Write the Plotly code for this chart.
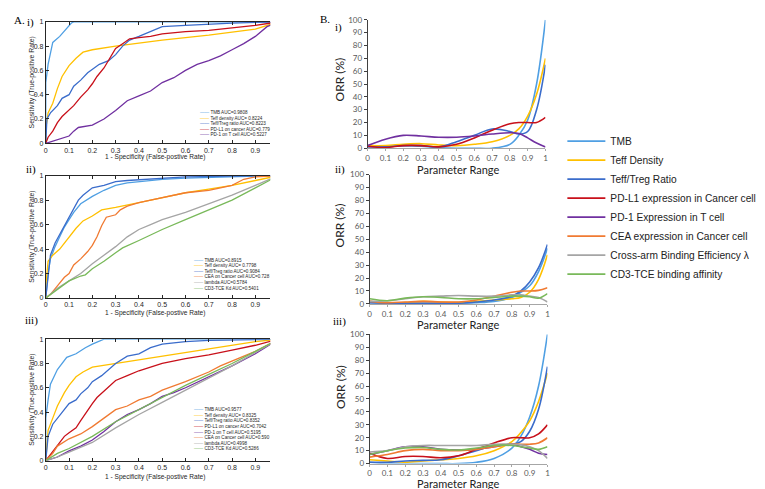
import plotly.graph_objects as go

W, H = 765, 489

# ---------------- Colours ----------------
C_TMB = "#4F9FE3"
C_TEFF = "#FFC000"
C_TREG = "#3A6CCB"
C_PDL1 = "#C8101A"
C_PD1 = "#7030A0"
C_CEA = "#F07A32"
C_LAM = "#A5A5A5"
C_CD3 = "#79B95A"

# ---------------- A-i ROC data ----------------
ai_tmb_fpr = [0, 0, 0.01, 0.02, 0.03, 0.06, 0.09, 0.11, 0.12, 1]
ai_tmb_tpr = [0, 0.5, 0.65, 0.75, 0.83, 0.88, 0.95, 0.99, 1.0, 1]
ai_teff_fpr = [0, 0, 0.01, 0.03, 0.05, 0.07, 0.1, 0.13, 0.16, 0.2, 0.3, 0.5, 0.7, 0.9, 1]
ai_teff_tpr = [0, 0.12, 0.25, 0.33, 0.45, 0.55, 0.64, 0.70, 0.75, 0.77, 0.80, 0.85, 0.89, 0.94, 1]
ai_treg_fpr = [0, 0.005, 0.02, 0.05, 0.07, 0.1, 0.12, 0.15, 0.18, 0.2, 0.23, 0.27, 0.3, 0.33, 0.36, 0.4, 0.45, 0.5, 0.6, 0.7, 0.8, 1]
ai_treg_tpr = [0, 0.2, 0.25, 0.31, 0.37, 0.40, 0.47, 0.52, 0.58, 0.61, 0.65, 0.68, 0.73, 0.80, 0.85, 0.88, 0.92, 0.96, 0.97, 0.98, 0.99, 1]
ai_pdl1_fpr = [0, 0.01, 0.03, 0.05, 0.07, 0.1, 0.12, 0.15, 0.18, 0.2, 0.22, 0.25, 0.28, 0.3, 0.33, 0.36, 0.4, 0.45, 0.5, 0.6, 0.7, 0.8, 0.9, 1]
ai_pdl1_tpr = [0, 0.05, 0.1, 0.17, 0.22, 0.27, 0.31, 0.38, 0.44, 0.49, 0.55, 0.62, 0.72, 0.78, 0.82, 0.86, 0.87, 0.88, 0.9, 0.92, 0.93, 0.95, 0.97, 1]
ai_pd1_fpr = [0, 0.05, 0.1, 0.12, 0.14, 0.2, 0.25, 0.3, 0.35, 0.4, 0.45, 0.5, 0.55, 0.6, 0.65, 0.7, 0.75, 0.8, 0.85, 0.9, 0.95, 1]
ai_pd1_tpr = [0, 0.03, 0.06, 0.1, 0.13, 0.15, 0.2, 0.27, 0.35, 0.39, 0.43, 0.5, 0.54, 0.6, 0.65, 0.68, 0.72, 0.77, 0.82, 0.88, 0.96, 1]

# ---------------- A-ii ROC data ----------------
aii_tmb_fpr = [0, 0.01, 0.02, 0.04, 0.06, 0.08, 0.1, 0.12, 0.15, 0.2, 0.25, 0.3, 0.35, 0.4, 0.5, 0.6, 0.8, 1]
aii_tmb_tpr = [0, 0.2, 0.32, 0.42, 0.5, 0.58, 0.64, 0.7, 0.77, 0.83, 0.88, 0.92, 0.94, 0.95, 0.97, 0.98, 0.99, 1]
aii_teff_fpr = [0, 0, 0.01, 0.03, 0.06, 0.08, 0.1, 0.13, 0.16, 0.2, 0.24, 0.3, 0.4, 0.5, 0.6, 0.7, 0.8, 0.9, 1]
aii_teff_tpr = [0, 0.1, 0.3, 0.35, 0.4, 0.45, 0.5, 0.57, 0.63, 0.67, 0.72, 0.74, 0.78, 0.82, 0.86, 0.89, 0.92, 0.96, 1]
aii_treg_fpr = [0, 0.01, 0.02, 0.04, 0.06, 0.08, 0.1, 0.12, 0.14, 0.16, 0.18, 0.2, 0.25, 0.3, 0.35, 0.45, 0.5, 0.6, 0.8, 1]
aii_treg_tpr = [0, 0.2, 0.35, 0.45, 0.52, 0.6, 0.66, 0.73, 0.8, 0.84, 0.87, 0.9, 0.92, 0.95, 0.96, 0.97, 0.98, 0.99, 0.995, 1]
aii_cea_fpr = [0, 0.02, 0.05, 0.08, 0.1, 0.12, 0.15, 0.18, 0.2, 0.22, 0.24, 0.26, 0.3, 0.32, 0.35, 0.4, 0.45, 0.5, 0.6, 0.7, 0.8, 0.85, 0.9, 1]
aii_cea_tpr = [0, 0.03, 0.1, 0.17, 0.2, 0.27, 0.32, 0.38, 0.43, 0.5, 0.59, 0.66, 0.68, 0.72, 0.75, 0.78, 0.8, 0.82, 0.86, 0.88, 0.92, 0.97, 0.99, 1]
aii_lam_fpr = [0, 0.05, 0.1, 0.15, 0.2, 0.25, 0.3, 0.35, 0.4, 0.45, 0.5, 0.6, 0.7, 0.8, 0.9, 1]
aii_lam_tpr = [0, 0.08, 0.14, 0.2, 0.28, 0.35, 0.42, 0.5, 0.56, 0.6, 0.64, 0.7, 0.77, 0.84, 0.92, 1]
aii_cd3_fpr = [0, 0.03, 0.07, 0.1, 0.15, 0.17, 0.2, 0.25, 0.3, 0.33, 0.4, 0.5, 0.6, 0.7, 0.8, 0.9, 1]
aii_cd3_tpr = [0, 0.04, 0.1, 0.14, 0.18, 0.19, 0.24, 0.3, 0.37, 0.41, 0.47, 0.56, 0.64, 0.72, 0.8, 0.9, 1]

# ---------------- A-iii ROC data ----------------
aiii_tmb_fpr = [0, 0, 0.01, 0.02, 0.05, 0.09, 0.13, 0.17, 0.2, 0.25, 1]
aiii_tmb_tpr = [0, 0.35, 0.5, 0.63, 0.75, 0.85, 0.88, 0.93, 0.96, 1.0, 1]
aiii_teff_fpr = [0, 0.01, 0.03, 0.05, 0.08, 0.1, 0.13, 0.16, 0.2, 0.3, 0.4, 0.5, 0.6, 0.7, 0.8, 0.9, 1]
aiii_teff_tpr = [0, 0.25, 0.35, 0.45, 0.56, 0.62, 0.69, 0.73, 0.77, 0.8, 0.83, 0.86, 0.89, 0.92, 0.95, 0.98, 1]
aiii_treg_fpr = [0, 0.01, 0.03, 0.05, 0.08, 0.1, 0.13, 0.15, 0.18, 0.2, 0.24, 0.27, 0.3, 0.35, 0.4, 0.45, 0.5, 0.6, 0.7, 1]
aiii_treg_tpr = [0, 0.2, 0.3, 0.35, 0.42, 0.47, 0.5, 0.55, 0.6, 0.65, 0.7, 0.75, 0.8, 0.86, 0.88, 0.93, 0.96, 0.98, 0.99, 1]
aiii_pdl1_fpr = [0, 0.02, 0.05, 0.08, 0.1, 0.13, 0.15, 0.18, 0.2, 0.22, 0.25, 0.28, 0.3, 0.35, 0.4, 0.45, 0.5, 0.6, 0.7, 0.8, 0.9, 1]
aiii_pdl1_tpr = [0, 0.05, 0.12, 0.2, 0.23, 0.27, 0.33, 0.42, 0.47, 0.52, 0.57, 0.62, 0.66, 0.7, 0.74, 0.77, 0.8, 0.84, 0.87, 0.91, 0.95, 1]
aiii_pd1_fpr = [0, 0.05, 0.1, 0.15, 0.2, 0.25, 0.3, 0.35, 0.4, 0.45, 0.5, 0.55, 0.6, 0.7, 0.8, 0.9, 1]
aiii_pd1_tpr = [0, 0.03, 0.08, 0.12, 0.17, 0.24, 0.32, 0.38, 0.42, 0.47, 0.53, 0.56, 0.6, 0.69, 0.78, 0.88, 1]
aiii_cea_fpr = [0, 0.03, 0.05, 0.1, 0.15, 0.2, 0.25, 0.3, 0.35, 0.4, 0.45, 0.5, 0.6, 0.7, 0.75, 0.8, 0.9, 1]
aiii_cea_tpr = [0, 0.06, 0.12, 0.18, 0.22, 0.28, 0.35, 0.42, 0.45, 0.5, 0.53, 0.58, 0.65, 0.73, 0.78, 0.82, 0.9, 1]
aiii_lam_fpr = [0, 0.05, 0.1, 0.2, 0.3, 0.4, 0.5, 0.6, 0.7, 0.8, 0.9, 1]
aiii_lam_tpr = [0, 0.03, 0.07, 0.15, 0.27, 0.38, 0.48, 0.58, 0.68, 0.78, 0.89, 1]
aiii_cd3_fpr = [0, 0.05, 0.1, 0.2, 0.3, 0.4, 0.5, 0.6, 0.7, 0.8, 0.9, 1]
aiii_cd3_tpr = [0, 0.06, 0.1, 0.2, 0.32, 0.42, 0.52, 0.62, 0.71, 0.8, 0.9, 1]

# ---------------- Legend texts (A panels) ----------------
ai_labels = ["TMB AUC=0.9808", "Teff density AUC= 0.8224", "Teff/Treg ratio AUC=0.8223",
             "PD-L1 on cancer AUC=0.779", "PD-1 on T cell AUC=0.5227"]
aii_labels = ["TMB AUC=0.8915", "Teff density AUC= 0.7798", "Teff/Treg ratio AUC=0.9084",
              "CEA on Cancer cell AUC=0.728", "lambda AUC=0.5784", "CD3-TCE Kd AUC=0.5401"]
aiii_labels = ["TMB AUC=0.9577", "Teff density AUC= 0.8325", "Teff/Treg ratio AUC=0.8352",
               "PD-L1 on cancer AUC=0.7042", "PD-1 on T cell AUC=0.5195",
               "CEA on Cancer cell AUC=0.590", "lambda AUC=0.4998", "CD3-TCE Kd AUC=0.5286"]

# ---------------- B panels (ORR vs parameter range) ----------------
b_x = [0, 0.1, 0.2, 0.3, 0.4, 0.5, 0.6, 0.7, 0.8, 0.85, 0.9, 0.95, 1.0]

bi_tmb = [1.5, 1, 2, 1.5, 0.5, 0, 0, 0, 3, 10, 22, 50, 100]
bi_teff = [2, 2, 3, 3.5, 2.5, 2, 3, 5, 10, 15, 25, 42, 70]
bi_treg = [1, 1, 2, 2, 1, 5, 10, 15, 13, 11, 13, 30, 65]
bi_pdl1 = [1.5, 0.5, 2, 2, 1, 3, 8, 14, 19, 20, 20, 20, 24]
bi_pd1 = [2, 7, 10, 9.5, 8.5, 8.5, 9.5, 11, 12, 11.5, 8, 4, 1]

bii_tmb = [1, 0.5, 0.5, 0.5, 0.5, 0.5, 1, 2, 5, 9, 14, 25, 43]
bii_teff = [2, 0.5, 1, 2, 1.5, 1, 2, 3, 4, 5, 9, 19, 38]
bii_treg = [1, 0.5, 0.5, 0.5, 0.5, 0.5, 1.5, 3, 6, 10, 17, 28, 46]
bii_cea = [2, 1, 1.5, 2, 1.5, 1.5, 3, 6, 9, 10, 10, 10.5, 12.5]
bii_lam = [2, 2.5, 4, 5.5, 6, 6.5, 6, 6, 7, 7, 6, 5, 1.5]
bii_cd3 = [4, 2.5, 4.5, 5.5, 5, 4, 4, 5, 6, 6, 5.5, 4.5, 8]

biii_tmb = [1, 0, 0, 0, 0, 0, 1, 4, 12, 21, 36, 60, 100]
biii_teff = [3, 2, 1, 2, 3, 4, 6, 10, 17, 24, 33, 48, 70]
biii_treg = [1, 1, 2, 2.5, 3, 6, 10, 14, 15, 17, 25, 42, 75]
biii_pdl1 = [8, 4, 5.5, 5.5, 4.5, 6, 11, 16, 20, 20, 20, 23, 30]
biii_pd1 = [7, 10, 13, 13, 11, 10.5, 11, 13, 15, 13, 11, 8, 7]
biii_cea = [5, 7, 10, 11, 10, 10, 11, 13, 15, 15, 15, 16, 20]
biii_lam = [9, 10, 13, 14, 14, 14, 14, 15, 15, 14.5, 13, 10, 4]
biii_cd3 = [7, 10, 12, 12.5, 11, 10.5, 12, 14, 14, 13, 12, 11, 13]

b_legend_names = ["TMB", "Teff Density", "Teff/Treg Ratio", "PD-L1 expression in Cancer cell",
                  "PD-1 Expression in T cell", "CEA expression in Cancer cell",
                  "Cross-arm Binding Efficiency λ", "CD3-TCE binding affinity"]

roc_xticks = [0, 0.1, 0.2, 0.3, 0.4, 0.5, 0.6, 0.7, 0.8, 0.9]
roc_xtext = ["0", "0.1", "0.2", "0.3", "0.4", "0.5", "0.6", "0.7", "0.8", "0.9"]
roc_yticks = [0, 0.2, 0.4, 0.6, 0.8, 1]
roc_ytext = ["0", "0.2", "0.4", "0.6", "0.8", "1"]
orr_xticks = [0, 0.1, 0.2, 0.3, 0.4, 0.5, 0.6, 0.7, 0.8, 0.9, 1]
orr_xtext = ["0", "0.1", "0.2", "0.3", "0.4", "0.5", "0.6", "0.7", "0.8", "0.9", "1"]
orr_yticks = [0, 10, 20, 30, 40, 50, 60, 70, 80, 90, 100]


def fx(p):
    return p / W


def fy(p):
    return 1 - p / H


fig = go.Figure()

# ---- A panels ----
a_panels = [
    ("x", "y", [(ai_tmb_fpr, ai_tmb_tpr, C_TMB), (ai_teff_fpr, ai_teff_tpr, C_TEFF),
                (ai_treg_fpr, ai_treg_tpr, C_TREG), (ai_pdl1_fpr, ai_pdl1_tpr, C_PDL1),
                (ai_pd1_fpr, ai_pd1_tpr, C_PD1)]),
    ("x2", "y2", [(aii_tmb_fpr, aii_tmb_tpr, C_TMB), (aii_teff_fpr, aii_teff_tpr, C_TEFF),
                  (aii_treg_fpr, aii_treg_tpr, C_TREG), (aii_cea_fpr, aii_cea_tpr, C_CEA),
                  (aii_lam_fpr, aii_lam_tpr, C_LAM), (aii_cd3_fpr, aii_cd3_tpr, C_CD3)]),
    ("x3", "y3", [(aiii_tmb_fpr, aiii_tmb_tpr, C_TMB), (aiii_teff_fpr, aiii_teff_tpr, C_TEFF),
                  (aiii_treg_fpr, aiii_treg_tpr, C_TREG), (aiii_pdl1_fpr, aiii_pdl1_tpr, C_PDL1),
                  (aiii_pd1_fpr, aiii_pd1_tpr, C_PD1), (aiii_cea_fpr, aiii_cea_tpr, C_CEA),
                  (aiii_lam_fpr, aiii_lam_tpr, C_LAM), (aiii_cd3_fpr, aiii_cd3_tpr, C_CD3)]),
]
for xa, ya, series in a_panels:
    for fpr, tpr, col in series:
        fig.add_trace(go.Scatter(x=fpr, y=tpr, mode="lines", xaxis=xa, yaxis=ya,
                                 line=dict(color=col, width=1.3), showlegend=False,
                                 hoverinfo="skip"))

# ---- B panels ----
b_panels = [
    ("x4", "y4", [(bi_tmb, C_TMB), (bi_teff, C_TEFF), (bi_treg, C_TREG), (bi_pdl1, C_PDL1),
                  (bi_pd1, C_PD1)], False),
    ("x5", "y5", [(bii_tmb, C_TMB), (bii_teff, C_TEFF), (bii_treg, C_TREG), (bii_cea, C_CEA),
                  (bii_lam, C_LAM), (bii_cd3, C_CD3)], False),
    ("x6", "y6", [(biii_tmb, C_TMB), (biii_teff, C_TEFF), (biii_treg, C_TREG),
                  (biii_pdl1, C_PDL1), (biii_pd1, C_PD1), (biii_cea, C_CEA),
                  (biii_lam, C_LAM), (biii_cd3, C_CD3)], True),
]
for xa, ya, series, show in b_panels:
    for i, (vals, col) in enumerate(series):
        fig.add_trace(go.Scatter(x=b_x, y=vals, mode="lines", xaxis=xa, yaxis=ya,
                                 line=dict(color=col, width=1.6, shape="spline", smoothing=1.0),
                                 name=b_legend_names[i] if show else None,
                                 showlegend=show, legend="legend", hoverinfo="skip"))

# ---- axes geometry (pixels) ----
A_X = (36, 262)
A_Y = [(9, 133), (166, 291), (333, 457)]
B_X = [(360, 539), (362, 541), (362, 541)]
B_Y = [(7, 138), (165, 297), (328, 460)]
roc_xmax = (A_X[1] - A_X[0]) / 234.4

layout = dict(width=W, height=H, margin=dict(l=0, r=0, t=0, b=0),
              paper_bgcolor="white", plot_bgcolor="white", showlegend=True)

a_font = dict(family="Liberation Sans, Arial", size=7, color="#262626")
for k in range(3):
    sx = "" if k == 0 else str(k + 1)
    layout["xaxis" + sx] = dict(domain=[fx(A_X[0]), fx(A_X[1])], range=[0, roc_xmax],
                                anchor="y" + sx, tickvals=roc_xticks, ticktext=roc_xtext,
                                ticks="inside", ticklen=3, tickcolor="#262626",
                                showline=True, linecolor="#262626", linewidth=1,
                                mirror="ticks", showgrid=False, zeroline=False,
                                tickfont=a_font, fixedrange=True)
    layout["yaxis" + sx] = dict(domain=[fy(A_Y[k][1]), fy(A_Y[k][0])], range=[0, 1],
                                anchor="x" + sx, tickvals=roc_yticks, ticktext=roc_ytext,
                                ticks="inside", ticklen=3, tickcolor="#262626",
                                showline=True, linecolor="#262626", linewidth=1,
                                showgrid=False, zeroline=False, tickfont=a_font,
                                fixedrange=True)

b_font = dict(family="Lato, Open Sans", size=8, color="#595959")
for k in range(3):
    sx = str(k + 4)
    layout["xaxis" + sx] = dict(domain=[fx(B_X[k][0]), fx(B_X[k][1])], range=[0, 1],
                                anchor="y" + sx, tickvals=orr_xticks, ticktext=orr_xtext,
                                ticks="outside", ticklen=2, tickcolor="#A6A6A6",
                                showline=True, linecolor="#A6A6A6", linewidth=1,
                                showgrid=False, zeroline=False, tickfont=b_font,
                                fixedrange=True)
    layout["yaxis" + sx] = dict(domain=[fy(B_Y[k][1]), fy(B_Y[k][0])], range=[0, 100],
                                anchor="x" + sx, tickvals=orr_yticks,
                                ticks="outside", ticklen=3, tickcolor="#404040",
                                showline=True, linecolor="#404040", linewidth=1,
                                showgrid=False, zeroline=False, tickfont=b_font,
                                fixedrange=True)

layout["legend"] = dict(x=fx(556), y=fy(116), xanchor="left", yanchor="top",
                        font=dict(family="Liberation Sans, Arial", size=10.2, color="#222"),
                        bgcolor="rgba(0,0,0,0)", itemwidth=38, tracegroupgap=0)

ann = []
serif = dict(family="Liberation Serif, Times New Roman", size=11, color="black")
for txt, px, py in [("A.", 10, 7), ("i)", 21, 10), ("ii)", 21, 160), ("iii)", 22, 314),
                    ("B.", 317, 6), ("i)", 331, 15), ("ii)", 332, 160), ("iii)", 332, 315)]:
    ann.append(dict(text=txt, x=fx(px), y=fy(py), xref="paper", yref="paper",
                    showarrow=False, font=serif, xanchor="center", yanchor="middle"))

# A axis titles
for k, xt_y in enumerate([147, 306.5, 473.5]):
    ymid = (A_Y[k][0] + A_Y[k][1]) / 2
    ann.append(dict(text="Sensitivity (True-positive Rate)", x=fx(22), y=fy(ymid),
                    xref="paper", yref="paper", showarrow=False, textangle=-90,
                    font=dict(family="Liberation Sans, Arial", size=6.8, color="#262626"),
                    xanchor="center", yanchor="middle"))
    ann.append(dict(text="1 - Specificity (False-postive Rate)", x=fx(146), y=fy(xt_y),
                    xref="paper", yref="paper", showarrow=False,
                    font=dict(family="Liberation Sans, Arial", size=6.6, color="#262626"),
                    xanchor="center", yanchor="middle"))

# B axis titles
for k, (oy, py) in enumerate([(68, 159.5), (217, 318.5), (382, 480.5)]):
    ann.append(dict(text="ORR (%)", x=fx(332), y=fy(oy), xref="paper", yref="paper",
                    showarrow=False, textangle=-90,
                    font=dict(family="Lato, Open Sans", size=12, color="#222"),
                    xanchor="center", yanchor="middle"))
    ann.append(dict(text="Parameter Range", x=fx(451), y=fy(py), xref="paper", yref="paper",
                    showarrow=False, font=dict(family="Lato, Open Sans", size=11, color="#222"),
                    xanchor="center", yanchor="middle"))

# compact legends inside the ROC panels
a_leg = [
    (ai_labels, [C_TMB, C_TEFF, C_TREG, C_PDL1, C_PD1], 189, 101.7),
    (aii_labels, [C_TMB, C_TEFF, C_TREG, C_CEA, C_LAM, C_CD3], 183, 252.3),
    (aiii_labels, [C_TMB, C_TEFF, C_TREG, C_PDL1, C_PD1, C_CEA, C_LAM, C_CD3], 183, 405),
]
for labels, cols, lx, ly0 in a_leg:
    for i, (lab, col) in enumerate(zip(labels, cols)):
        ann.append(dict(text=f"<span style='color:{col}'>——</span> {lab}",
                        x=fx(lx), y=fy(ly0 + i * 5.7), xref="paper", yref="paper",
                        showarrow=False, xanchor="left", yanchor="middle",
                        font=dict(family="Liberation Sans, Arial", size=4.6, color="#262626")))

layout["annotations"] = ann
fig.update_layout(**layout)
fig.write_html("out.html")
